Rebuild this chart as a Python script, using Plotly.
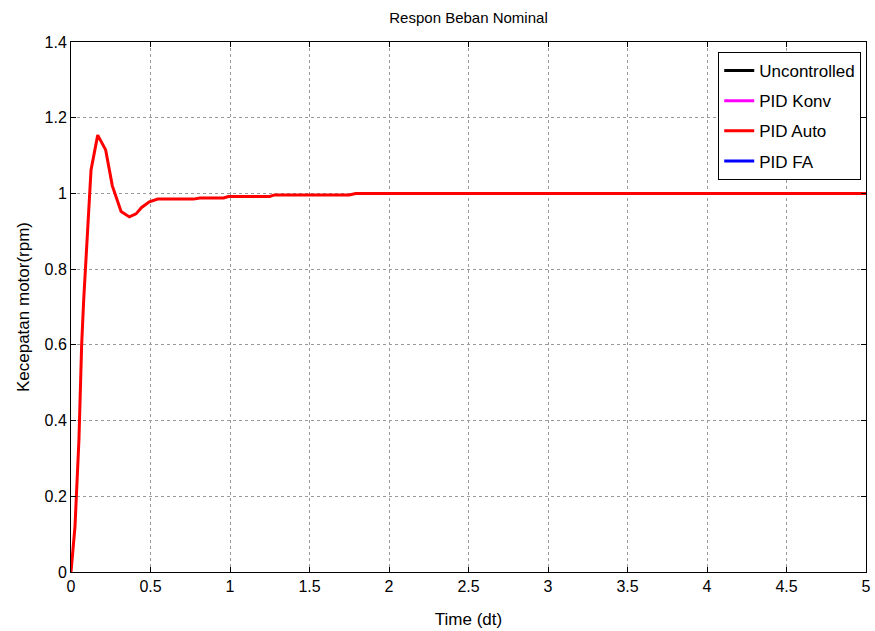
import plotly.graph_objects as go

# PID Auto response
t_auto = [0, 0.025, 0.05, 0.067, 0.08, 0.1, 0.126, 0.168, 0.218, 0.26, 0.315, 0.367, 0.409, 0.444,
          0.493, 0.545, 0.77, 0.81, 0.96, 0.99, 1.25, 1.28, 1.75, 1.79, 5.0]
y_auto = [0, 0.12, 0.35, 0.60, 0.72, 0.87, 1.062, 1.154, 1.115, 1.02, 0.952, 0.938, 0.946, 0.963,
          0.978, 0.985, 0.985, 0.988, 0.988, 0.992, 0.992, 0.996, 0.996, 1.0, 1.0]

series_names = ["Uncontrolled", "PID Konv", "PID Auto", "PID FA"]
series_colors = ["#000000", "#ff00ff", "#ff0000", "#0000ff"]

x_ticks = [0, 0.5, 1, 1.5, 2, 2.5, 3, 3.5, 4, 4.5, 5]
x_tick_labels = ["0", "0.5", "1", "1.5", "2", "2.5", "3", "3.5", "4", "4.5", "5"]
y_ticks = [0, 0.2, 0.4, 0.6, 0.8, 1, 1.2, 1.4]
y_tick_labels = ["0", "0.2", "0.4", "0.6", "0.8", "1", "1.2", "1.4"]

fig = go.Figure()
for name, color in zip(series_names, series_colors):
    if name == "PID Auto":
        xs, ys = t_auto, y_auto
    else:
        xs, ys = [None], [None]
    fig.add_trace(go.Scatter(x=xs, y=ys, mode="lines", name=name, legendgroup=name,
                             line=dict(color=color, width=3)))

FONT = "Liberation Sans, Arial, sans-serif"
fig.update_layout(
    width=875, height=631,
    margin=dict(l=71, r=9, t=42, b=59),
    paper_bgcolor="white", plot_bgcolor="white",
    font=dict(family=FONT, color="black", size=16),
    title=dict(text="Respon Beban Nominal", x=(71 + 795 / 2) / 875, xanchor="center",
               y=1 - 18 / 631, yanchor="middle", font=dict(size=15, family=FONT)),
    showlegend=True,
    legend=dict(x=0.994, y=0.981, xanchor="right", yanchor="top",
                bgcolor="white", bordercolor="black", borderwidth=1,
                tracegroupgap=5, entrywidth=165, entrywidthmode="pixels",
                font=dict(size=17, family=FONT)),
)
axis_common = dict(showline=True, linecolor="black", linewidth=1, mirror="ticks",
                   ticks="inside", ticklen=5, tickcolor="black",
                   showgrid=True, gridcolor="#9a9a9a", griddash="dot", gridwidth=1,
                   zeroline=False, automargin=False, tickfont=dict(size=16, family=FONT))
fig.update_xaxes(range=[0, 5], tickvals=x_ticks, ticktext=x_tick_labels,
                 title=dict(text="Time (dt)", font=dict(size=17, family=FONT), standoff=18),
                 **axis_common)
fig.update_yaxes(range=[0, 1.4], tickvals=y_ticks, ticktext=y_tick_labels,
                 title=dict(text="Kecepatan motor(rpm)", font=dict(size=17, family=FONT), standoff=10),
                 **axis_common)

fig.write_html("out.html")
